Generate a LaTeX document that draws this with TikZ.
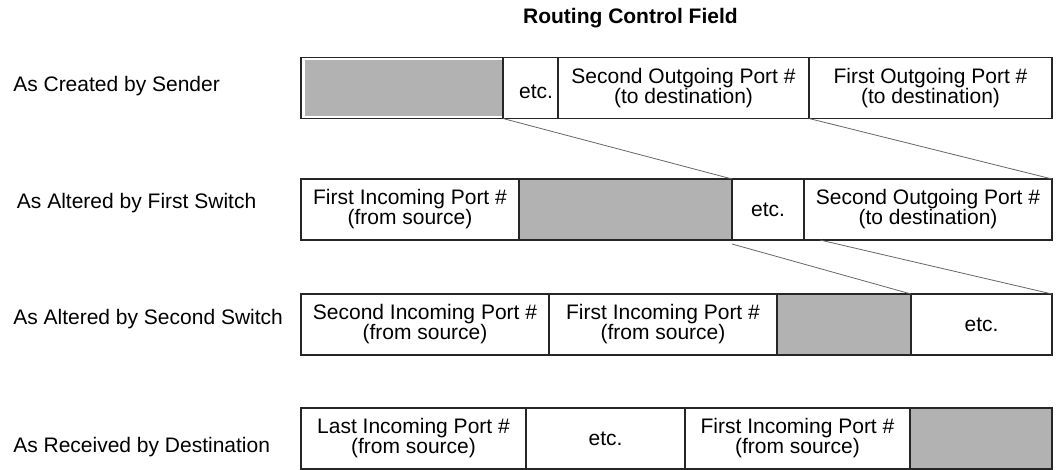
\documentclass[tikz,border=0pt]{standalone}
\usepackage{fontspec}
\setmainfont{Liberation Sans}
\usetikzlibrary{calc}
\newcommand\cellfont{\fontsize{15.75}{15}\selectfont}

\begin{document}
\begin{tikzpicture}[x=0.75pt,y=0.75pt,yscale=-1,xscale=1,
	cell/.style={draw=black!85, line width=0.8pt, anchor=north west, inner sep=0pt, outer sep=0pt,
		minimum width=#1*0.75pt, minimum height=61*0.75pt, align=center, font=\cellfont},
	blank/.style={cell=#1, fill=black!30},
	link/.style={draw=black!60, line width=0.6pt},
	rowlabel/.style={anchor=base west, inner sep=0pt, font=\cellfont}]
	\useasboundingbox (0,0) rectangle (1056,470);

	% Title
	\node [anchor=base east, inner sep=0pt, font=\cellfont\bfseries] (title) at (738,24) {Routing Control Field};

	% Row labels
	\node [rowlabel] (lab1) at (13,92) {As Created by Sender};
	\node [rowlabel] (lab2) at (16.7,209) {As Altered by First Switch};
	\node [rowlabel] (lab3) at (13,325) {As Altered by Second Switch};
	\node [rowlabel] (lab4) at (13,452.7) {As Received by Destination};

	% Row 1: as created by sender
	\node [cell=202] (s1) at (301,57.5) {};
	\fill [black!30] ($(s1.north west)+(4,3)$) rectangle ($(s1.south east)+(-0.5,-2.5)$);
	\node [cell=55, text width=45*0.75pt, align=right] (e1) at (503,57.5) {\raisebox{-2.5pt}[\height][\depth]{etc.}};
	\node [cell=251] (so1) at (558,57.5) {Second Outgoing Port \#\\(to destination)};
	\node [cell=243] (fo1) at (809,57.5) {First Outgoing Port \#\\(to destination)};

	% Row 2: as altered by first switch
	\node [cell=218] (fi2) at (301,179) {First Incoming Port \#\\(from source)};
	\node [blank=213] (s2) at (519,179) {};
	\node [cell=72] (e2) at (732,179) {etc.};
	\node [cell=248] (so2) at (804,179) {Second Outgoing Port \#\\(to destination)};

	% Row 3: as altered by second switch
	\node [cell=248] (si3) at (301,294) {Second Incoming Port \#\\(from source)};
	\node [cell=228] (fi3) at (549,294) {First Incoming Port \#\\(from source)};
	\node [blank=134] (s3) at (777,294) {};
	\node [cell=141] (e3) at (911,294) {etc.};

	% Row 4: as received by destination
	\node [cell=225] (li4) at (301,408) {Last Incoming Port \#\\(from source)};
	\node [cell=159] (e4) at (526,408) {etc.};
	\node [cell=225] (fi4) at (685,408) {First Incoming Port \#\\(from source)};
	\node [blank=142] (s4) at (910,408) {};

	% Shift lines
	\draw [link] (s1.south east) -- (s2.north east);
	\draw [link] (so1.south east) -- (so2.north east);
	\draw [link] ($(s2.south east)+(0,4)$) -- (s3.north east);
	\draw [link] ($(so2.south west)+(16,0)$) -- (e3.north east);

\end{tikzpicture}
\end{document}
